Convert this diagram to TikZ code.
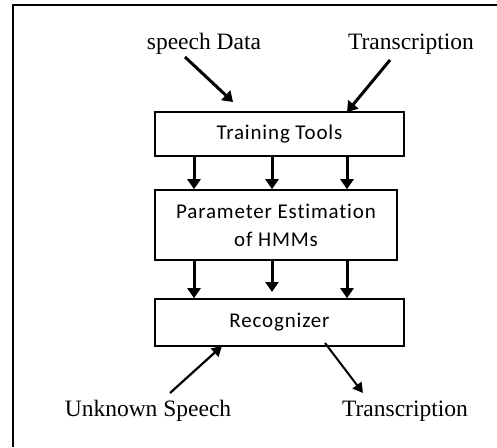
\documentclass[tikz,border=0pt]{standalone}
\usepackage{fontspec}
\setmainfont{Liberation Serif}
\newfontfamily\boxfont[Ligatures=NoCommon,LetterSpace=4]{Carlito}
\usetikzlibrary{arrows.meta}

\begin{document}
\begin{tikzpicture}[x=1pt,y=-1pt,
  block/.style={draw,line width=1.6pt,minimum height=44pt,inner sep=0pt,
    font=\boxfont\fontsize{21}{28}\selectfont,align=center},
  label/.style={inner sep=0pt,font=\fontsize{23.5}{28}\selectfont},
  flow/.style={line width=3pt,-{Triangle[width=13pt,length=10pt]}},
  thinflow/.style={line width=2.2pt,-{Triangle[width=11pt,length=10pt]}}]
  \useasboundingbox (0,0) rectangle (497,447);

  % outer frame (top and left edges)
  \draw[line width=2pt] (497,5) -- (12.5,5) -- (12.5,447);

  % processing blocks
  \node[block,minimum width=249pt] (train) at (279.5,134) {Training Tools};
  \node[block,minimum width=242pt,minimum height=70pt] (param) at (276,225)
    {Parameter Estimation\\of HMMs};
  \node[block,minimum width=249pt,minimum height=47pt] (recog) at (279.5,322.5) {Recognizer};

  % input and output labels
  \node[label] (speech) at (204,44) {speech Data};
  \node[label] (transin) at (411,44) {Transcription};
  \node[label] (unknown) at (148,411) {Unknown Speech};
  \node[label] (transout) at (405,411) {Transcription};

  % free ends of the slanted arrows
  \coordinate (s0) at (185,57);
  \coordinate (s1) at (233,102);
  \coordinate (t0) at (390,60);
  \coordinate (t1) at (347,112);
  \coordinate (u0) at (170,393);
  \coordinate (u1) at (222,346);
  \coordinate (o0) at (325,343);
  \coordinate (o1) at (363,393);

  \draw[flow] (s0) -- (s1);
  \draw[flow] (t0) -- (t1);
  \draw[thinflow] (u0) -- (u1);
  \draw[thinflow,line width=2pt] (o0) -- (o1);

  % columns of the vertical arrows
  \coordinate (cA) at (194,0);
  \coordinate (cB) at (272,0);
  \coordinate (cC) at (347,0);
  \coordinate (cMid) at (272,292);

  \draw[flow] (train.south -| cA) -- (param.north -| cA);
  \draw[flow] (train.south -| cB) -- (param.north -| cB);
  \draw[flow] (train.south -| cC) -- (param.north -| cC);

  \draw[flow] (param.south -| cA) -- (recog.north -| cA);
  \draw[flow] (param.south -| cB) -- (cMid);
  \draw[flow] (param.south -| cC) -- (recog.north -| cC);
\end{tikzpicture}
\end{document}
